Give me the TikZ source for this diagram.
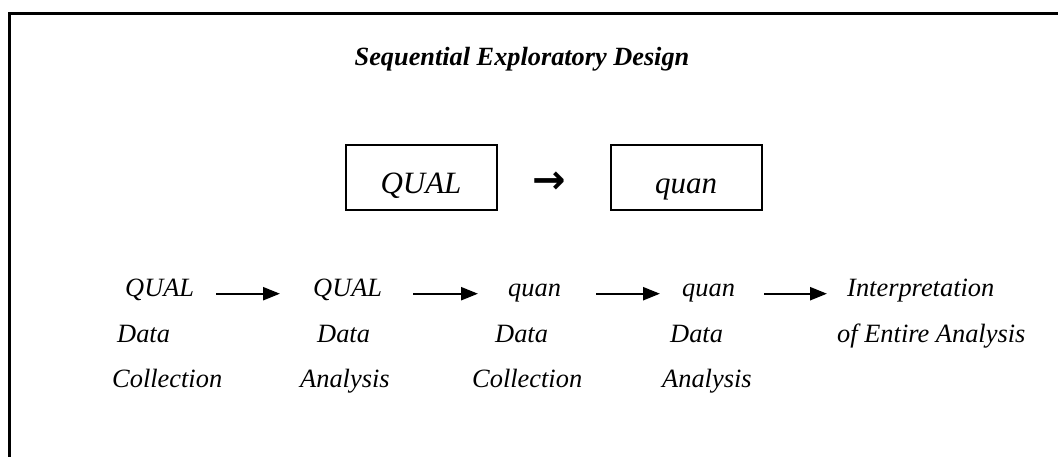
\documentclass[tikz,border=0pt]{standalone}
\usepackage{fontspec}
\setmainfont{Liberation Serif}
\newfontfamily\symfont{DejaVu Sans}
\usetikzlibrary{arrows.meta}

\begin{document}
\begin{tikzpicture}[x=1pt,y=-1pt,
  lbl/.style={anchor=base west,inner sep=0pt,font=\fontsize{26.4}{30}\selectfont\itshape},
  strand/.style={draw,line width=2pt,inner sep=0pt,minimum width=151pt,
    text height=49pt,text depth=16pt,font=\fontsize{31}{36}\selectfont\itshape},
  flow/.style={line width=2.4pt,-{Triangle[length=17pt,width=13pt]}}]
\useasboundingbox (0,0) rectangle (1058,457);
\draw[line width=3pt] (9,457) -- (9,14) -- (1058,14);

\node[anchor=base,inner sep=0pt,font=\fontsize{26.3}{30}\selectfont\bfseries\itshape]
  (title) at (522,66) {Sequential Exploratory Design};

\node[strand] (qual) at (421,144) [anchor=north] {QUAL};
\node[strand] (quan) at (686,144) [anchor=north] {quan};
\node[inner sep=0pt,font=\symfont\bfseries\fontsize{40}{40}\selectfont] (then) at (549,183) {→};

% phases
\node[lbl] (q1) at (125,296) {QUAL};
\node[lbl] (d1) at (117,342) {Data};
\node[lbl] (c1) at (112,387) {Collection};

\node[lbl] (q2) at (313,296) {QUAL};
\node[lbl] (d2) at (317,342) {Data};
\node[lbl] (a2) at (300,387) {Analysis};

\node[lbl] (q3) at (508,296) {quan};
\node[lbl] (d3) at (495,342) {Data};
\node[lbl] (c3) at (472,387) {Collection};

\node[lbl] (q4) at (682,296) {quan};
\node[lbl] (d4) at (670,342) {Data};
\node[lbl] (a4) at (662,387) {Analysis};

\node[lbl] (i5) at (847,296) {Interpretation};
\node[lbl] (e5) at (837,342) {of Entire Analysis};

% arrows
\draw[flow,shorten <=22pt,shorten >=33pt] (q1.mid east) -- (q2.mid west);
\draw[flow,shorten <=31pt,shorten >=30pt] (q2.mid east) -- (q3.mid west);
\draw[flow,shorten <=35pt,shorten >=22pt] (q3.mid east) -- (q4.mid west);
\draw[flow,shorten <=29pt,shorten >=20pt] (q4.mid east) -- (i5.mid west);
\end{tikzpicture}
\end{document}
